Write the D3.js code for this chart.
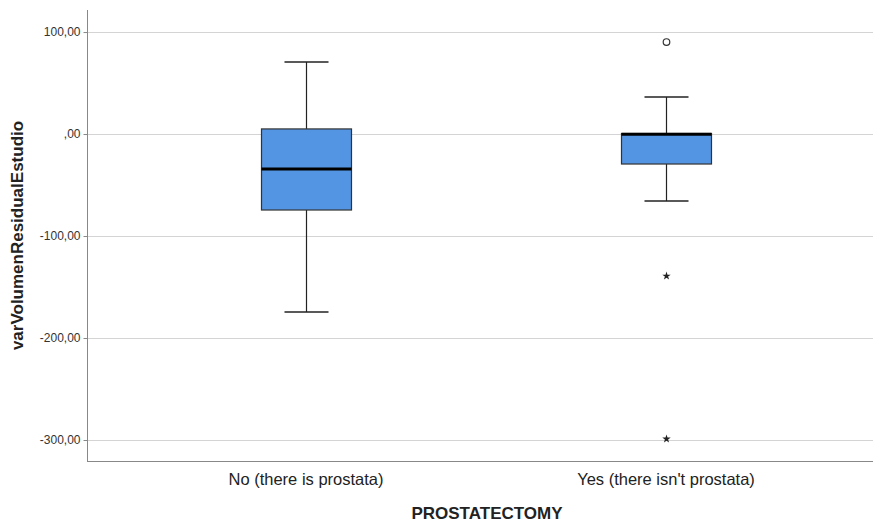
<!DOCTYPE html>
<html><head><meta charset="utf-8">
<script src="https://cdn.jsdelivr.net/npm/d3@7"></script>
<style>body{margin:0;background:#fff}svg{font-family:"Liberation Sans",Arial,sans-serif}</style>
</head><body><svg id="c" width="873" height="524"></svg>
<script>
const categories = ["No (there is prostata)", "Yes (there isn't prostata)"];
const whiskerLow = [-174.5, -65.7];
const q1 = [-74.5, -29.4];
const median = [-34.3, -0.3];
const q3 = [5, 0.5];
const whiskerHigh = [70.6, 36.3];
const outliersCircle = [[], [90.2]];
const outliersStar = [[], [-139.2, -299]];
const yTicks = [100, 0, -100, -200, -300];
const yTickLabels = ["100,00", ",00", "-100,00", "-200,00", "-300,00"];

(function(){
const svg = d3.select("#c");
const x = d3.scaleBand().domain(categories).range([126, 846]).padding(0);
const y = d3.scaleLinear().domain([-320, 122]).range([460.4, 9.6]);
const pl = 87, pr = 873, pt = 10, pb = 461;

// grid
svg.append("g").selectAll("line").data(yTicks).join("line")
  .attr("x1", pl).attr("x2", pr)
  .attr("y1", d => Math.round(y(d)) + 0.5).attr("y2", d => Math.round(y(d)) + 0.5)
  .attr("stroke", "#d4d4d4").attr("stroke-width", 1);

// axes
const yAxis = d3.axisLeft(y).tickValues(yTicks).tickFormat((d, i) => yTickLabels[i]).tickSize(4).tickPadding(3);
const gy = svg.append("g").attr("transform", `translate(${pl + 0.5},0)`).call(yAxis);
gy.select(".domain").remove();
gy.selectAll(".tick line").attr("stroke", "#888");
gy.selectAll(".tick text").attr("font-size", 12).attr("fill", "#333");
svg.append("line").attr("x1", pl + 0.5).attr("x2", pl + 0.5).attr("y1", pt).attr("y2", pb).attr("stroke", "#888");
svg.append("line").attr("x1", pl).attr("x2", pr).attr("y1", pb + 0.5).attr("y2", pb + 0.5).attr("stroke", "#888");

const xAxis = d3.axisBottom(x).tickSize(0).tickPadding(12);
const gx = svg.append("g").attr("transform", `translate(0,${pb})`).call(xAxis);
gx.select(".domain").remove();
gx.selectAll(".tick text").attr("font-size", 16.5).attr("fill", "#222");

// boxes
const bw = 90, cw = 44;
categories.forEach((c, i) => {
  const cx = Math.round(x(c) + x.bandwidth() / 2) + 0.5;
  const g = svg.append("g");
  g.append("line").attr("x1", cx).attr("x2", cx).attr("y1", y(whiskerHigh[i])).attr("y2", y(q3[i])).attr("stroke", "#222").attr("stroke-width", 1.2);
  g.append("line").attr("x1", cx).attr("x2", cx).attr("y1", y(q1[i])).attr("y2", y(whiskerLow[i])).attr("stroke", "#222").attr("stroke-width", 1.2);
  g.append("line").attr("x1", cx - cw / 2).attr("x2", cx + cw / 2).attr("y1", y(whiskerHigh[i])).attr("y2", y(whiskerHigh[i])).attr("stroke", "#222").attr("stroke-width", 1.5);
  g.append("line").attr("x1", cx - cw / 2).attr("x2", cx + cw / 2).attr("y1", y(whiskerLow[i])).attr("y2", y(whiskerLow[i])).attr("stroke", "#222").attr("stroke-width", 1.5);
  g.append("rect").attr("x", cx - bw / 2).attr("width", bw)
    .attr("y", y(q3[i])).attr("height", y(q1[i]) - y(q3[i]))
    .attr("fill", "#5394e3").attr("stroke", "#333").attr("stroke-width", 1.2);
  g.append("line").attr("x1", cx - bw / 2).attr("x2", cx + bw / 2).attr("y1", y(median[i])).attr("y2", y(median[i])).attr("stroke", "#000").attr("stroke-width", 3);
  outliersCircle[i].forEach(v => {
    g.append("circle").attr("cx", cx).attr("cy", y(v)).attr("r", 3.3).attr("fill", "none").attr("stroke", "#333").attr("stroke-width", 1.2);
  });
  outliersStar[i].forEach(v => {
    g.append("path").attr("d", d3.symbol(d3.symbolStar, 22)()).attr("transform", `translate(${cx},${y(v)})`).attr("fill", "#222");
  });
});

// titles
svg.append("text").attr("transform", `translate(23,${(pt + pb) / 2}) rotate(-90)`).attr("text-anchor", "middle")
  .attr("font-size", 17).attr("font-weight", "bold").attr("fill", "#222").text("varVolumenResidualEstudio");
svg.append("text").attr("x", 487).attr("y", 519).attr("text-anchor", "middle")
  .attr("font-size", 17).attr("font-weight", "bold").attr("fill", "#222").text("PROSTATECTOMY");
})();
</script></body></html>
